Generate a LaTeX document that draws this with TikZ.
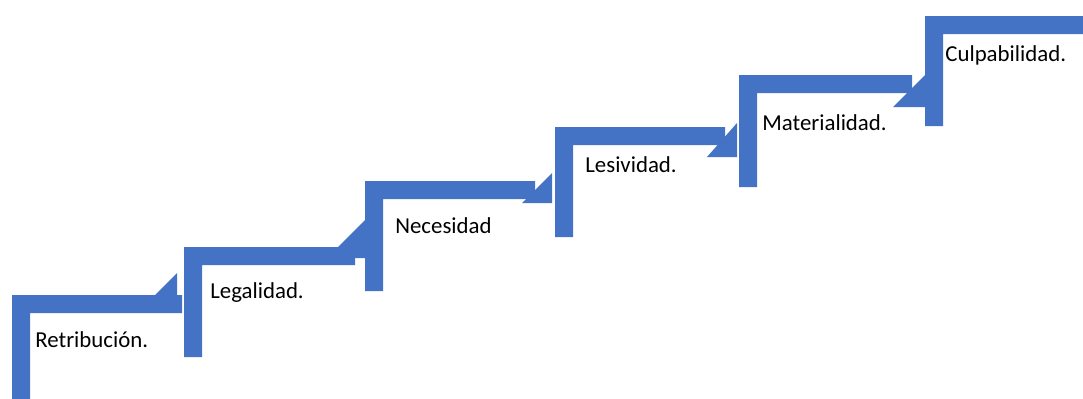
\documentclass[tikz,border=0pt]{standalone}
\usepackage{fontspec}
\setmainfont{Carlito}
\definecolor{stepblue}{HTML}{4472C4}
\tikzset{
  stepbar/.style={fill=stepblue, draw=none},
  steplabel/.style={anchor=west, inner sep=0pt, font=\fontsize{13}{15}\selectfont},
}

\begin{document}
\begin{tikzpicture}[x=0.02cm, y=-0.02cm]
    \useasboundingbox (0,0) rectangle (1083,399);

    % connectors between the steps
    \foreach \l/\r/\t/\b in {155/177/273/295, 327/365/220/258, 522/552/173/203,
                             707/737/123/157, 893/938/62/107}
        \fill[stepbar] (\l,\b) -- (\r,\b) -- (\r,\t) -- cycle;

    % steps: left x / top y / bottom y / end of bar
    \foreach \x/\y/\b/\e in {12/295/399/182, 184/247/357/355, 365/181/291/535,
                             555/127/237/725, 739/75/187/912, 925/16/126/1083}
        \fill[stepbar] (\x,\b) -- (\x,\y) -- (\e,\y) -- (\e,\y+18)
                       -- (\x+18,\y+18) -- (\x+18,\b) -- cycle;

    % place labels
    \node[steplabel] at (35,340)  (retribucion)  {Retribución.};
    \node[steplabel] at (210,293) (legalidad)    {Legalidad.};
    \node[steplabel] at (395,226) (necesidad)    {Necesidad};
    \node[steplabel] at (585,165) (lesividad)    {Lesividad.};
    \node[steplabel] at (762,123) (materialidad) {Materialidad.};
    \node[steplabel] at (945,55)  (culpabilidad) {Culpabilidad.};
\end{tikzpicture}
\end{document}
